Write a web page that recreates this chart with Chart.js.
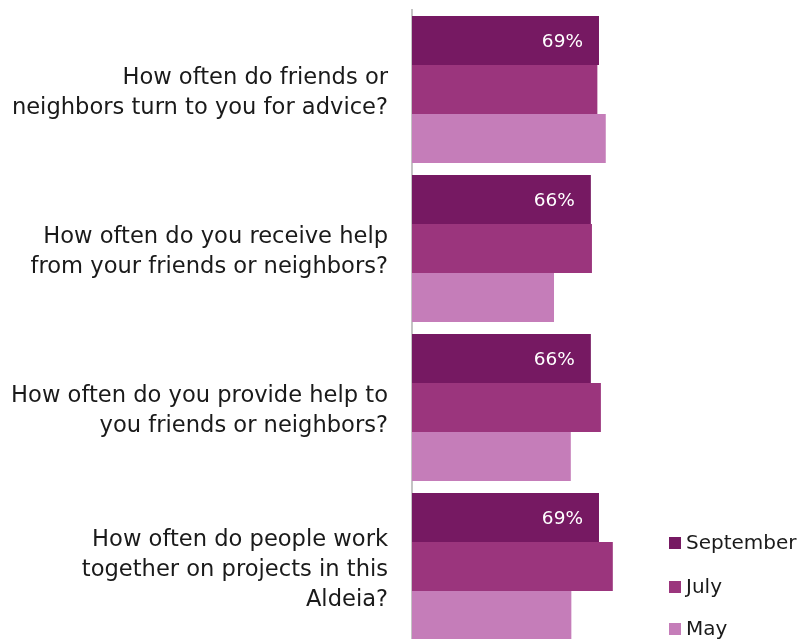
<!DOCTYPE html>
<html>
<head>
<meta charset="utf-8">
<script src="https://cdn.jsdelivr.net/npm/chart.js@4"></script>
<style>
  html, body { margin: 0; padding: 0; background: #fff; overflow: hidden; }
  .wrap { width: 798px; height: 639px; overflow: hidden; }
  .box { position: relative; width: 798px; height: 660px; }
</style>
</head>
<body>
<div class="wrap"><div class="box"><canvas id="surveyChart"></canvas></div></div>
<script>
  const questions = [
    ["How often do friends or", "neighbors turn to you for advice?"],
    ["How often do you receive help", "from your friends or neighbors?"],
    ["How often do you provide help to", "you friends or neighbors?"],
    ["How often do people work", "together on projects in this", "Aldeia?"],
  ];
  const months = ["September", "July", "May"];
  const september = [69, 66, 66, 69];
  const july = [68.4, 66.4, 69.7, 74.1];
  const may = [71.5, 52.4, 58.6, 58.8];
  const colors = ["#761962", "#9b357d", "#c57db9"];

  const FONT = "'DejaVu Sans', sans-serif";
  const AXIS_X = 412;

  // percentage labels inside the September bars
  const valueLabels = {
    id: "valueLabels",
    afterDatasetsDraw(chart) {
      const ctx = chart.ctx;
      const meta = chart.getDatasetMeta(0);
      ctx.save();
      ctx.font = "18.5px " + FONT;
      ctx.fillStyle = "#ffffff";
      ctx.textAlign = "right";
      ctx.textBaseline = "middle";
      meta.data.forEach(function (bar, i) {
        ctx.fillText(september[i] + "%", bar.x - 16, bar.y + 2);
      });
      ctx.restore();
    },
  };

  // legend in the bottom right corner
  const sideLegend = {
    id: "sideLegend",
    afterDraw(chart) {
      const ctx = chart.ctx;
      const ys = [543, 587, 629];
      ctx.save();
      ctx.font = "20px " + FONT;
      ctx.textAlign = "left";
      ctx.textBaseline = "middle";
      chart.data.datasets.forEach(function (ds, i) {
        ctx.fillStyle = ds.backgroundColor;
        ctx.fillRect(669, ys[i] - 6, 12, 12);
        ctx.fillStyle = "#1a1a1a";
        ctx.fillText(ds.label, 686, ys[i] + 1);
      });
      ctx.restore();
    },
  };

  const ctx = document.getElementById("surveyChart").getContext("2d");

  new Chart(ctx, {
    type: "bar",
    data: {
      labels: questions,
      datasets: [
        { label: months[0], data: september, backgroundColor: colors[0] },
        { label: months[1], data: july, backgroundColor: colors[1] },
        { label: months[2], data: may, backgroundColor: colors[2] },
      ],
    },
    options: {
      indexAxis: "y",
      responsive: true,
      maintainAspectRatio: false,
      animation: false,
      events: [],
      layout: {
        autoPadding: false,
        padding: { top: 10, bottom: 14, left: 0, right: 115 },
      },
      datasets: {
        bar: {
          categoryPercentage: 0.925,
          barPercentage: 1,
          borderWidth: 0,
        },
      },
      plugins: {
        legend: { display: false },
        tooltip: { enabled: false },
      },
      scales: {
        x: {
          min: 0,
          max: 100,
          display: false,
        },
        y: {
          grid: { display: false, drawTicks: false },
          border: { display: true, color: "#c4c4c4", width: 2 },
          ticks: {
            padding: 24,
            labelOffset: 4,
            color: "#1a1a1a",
            font: { family: FONT, size: 22.6, lineHeight: 1.33 },
          },
          afterFit(scale) {
            // fixed axis width, and no extra room for the multi-line labels
            scale.width = AXIS_X;
            scale.paddingTop = 0;
            scale.paddingBottom = 0;
          },
        },
      },
    },
    plugins: [valueLabels, sideLegend],
  });
</script>
</body>
</html>
